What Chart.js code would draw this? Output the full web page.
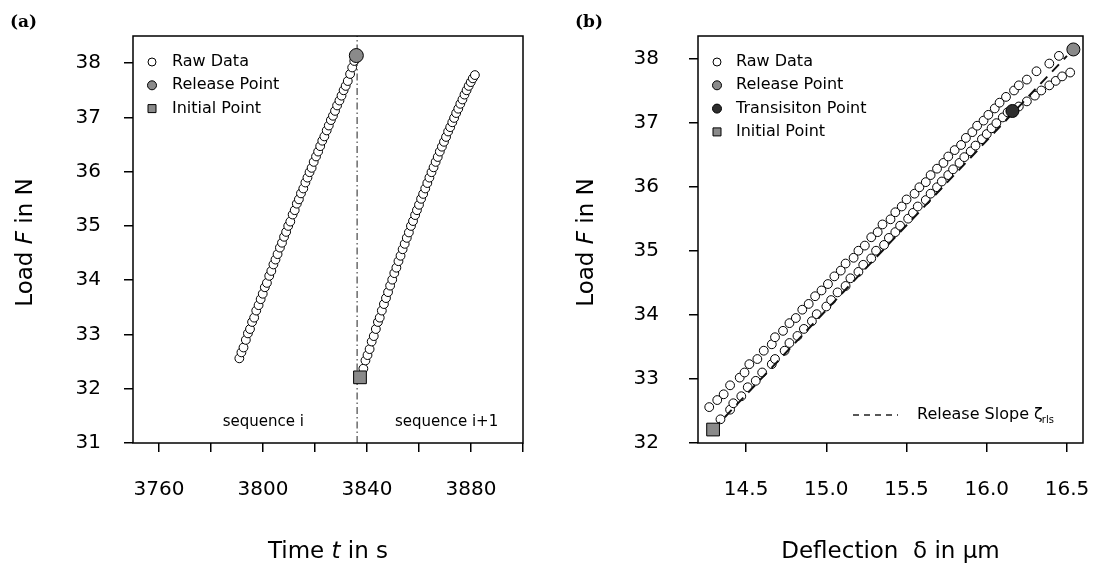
<!DOCTYPE html>
<html>
<head>
<meta charset="utf-8">
<script src="https://cdn.jsdelivr.net/npm/chart.js@4.4.0/dist/chart.umd.min.js"></script>
<style>
  html, body { margin: 0; padding: 0; background: #fff; }
  #wrap { position: relative; width: 1094px; height: 568px; }
  .panel { position: absolute; top: 0; width: 547px; height: 568px; }
</style>
</head>
<body>
<div id="wrap">
  <div class="panel" style="left:0"><canvas id="chartA" width="547" height="568"></canvas></div>
  <div class="panel" style="left:547px"><canvas id="chartB" width="547" height="568"></canvas></div>
</div>
<script>
// --- sequence i (loading until release) ---
const timeSeqI = [3790.9, 3791.7, 3792.5, 3793.4, 3794.2, 3795.0, 3795.8, 3796.6, 3797.4, 3798.3,
  3799.1, 3799.9, 3800.7, 3801.5, 3802.4, 3803.2, 3804.0, 3804.8, 3805.6, 3806.5,
  3807.3, 3808.1, 3808.9, 3809.7, 3810.5, 3811.4, 3812.2, 3813.0, 3813.8, 3814.6,
  3815.5, 3816.3, 3817.1, 3817.9, 3818.7, 3819.5, 3820.4, 3821.2, 3822.0, 3822.8,
  3823.6, 3824.5, 3825.3, 3826.1, 3826.9, 3827.7, 3828.5, 3829.4, 3830.2, 3831.0,
  3831.8, 3832.6, 3833.5, 3834.3, 3835.1];
const loadSeqI = [32.56, 32.67, 32.76, 32.90, 33.02, 33.10, 33.23, 33.31, 33.44, 33.54,
  33.65, 33.75, 33.87, 33.95, 34.08, 34.17, 34.29, 34.38, 34.48, 34.60,
  34.69, 34.80, 34.89, 35.00, 35.08, 35.21, 35.29, 35.41, 35.49, 35.60,
  35.69, 35.80, 35.89, 35.99, 36.07, 36.18, 36.28, 36.37, 36.47, 36.57,
  36.65, 36.76, 36.85, 36.95, 37.03, 37.12, 37.22, 37.31, 37.40, 37.50,
  37.58, 37.67, 37.80, 37.92, 38.04];
const deflSeqI = [14.27, 14.32, 14.36, 14.40, 14.46, 14.49, 14.52, 14.57, 14.61, 14.66,
  14.68, 14.73, 14.77, 14.81, 14.85, 14.89, 14.93, 14.97, 15.01, 15.05,
  15.09, 15.12, 15.17, 15.20, 15.24, 15.28, 15.32, 15.35, 15.40, 15.43,
  15.47, 15.50, 15.55, 15.58, 15.62, 15.65, 15.69, 15.73, 15.76, 15.80,
  15.84, 15.87, 15.91, 15.94, 15.98, 16.01, 16.05, 16.08, 16.12, 16.17,
  16.20, 16.25, 16.31, 16.39, 16.45];

// --- sequence i+1 ---
const timeSeqI1 = [3838.6, 3839.4, 3840.2, 3841.0, 3841.8, 3842.6, 3843.4, 3844.2, 3844.9, 3845.7,
  3846.5, 3847.3, 3848.1, 3848.9, 3849.7, 3850.5, 3851.3, 3852.1, 3852.9, 3853.7,
  3854.5, 3855.3, 3856.1, 3856.9, 3857.7, 3858.5, 3859.2, 3860.0, 3860.8, 3861.6,
  3862.4, 3863.2, 3864.0, 3864.8, 3865.6, 3866.4, 3867.2, 3868.0, 3868.8, 3869.6,
  3870.4, 3871.2, 3872.0, 3872.8, 3873.5, 3874.3, 3875.1, 3875.9, 3876.7, 3877.5,
  3878.3, 3879.1, 3879.9, 3880.7, 3881.5];
const loadSeqI1 = [32.37, 32.52, 32.62, 32.73, 32.87, 32.97, 33.10, 33.23, 33.31, 33.44,
  33.56, 33.67, 33.78, 33.90, 34.01, 34.13, 34.23, 34.35, 34.45, 34.57,
  34.67, 34.78, 34.88, 35.00, 35.09, 35.20, 35.29, 35.39, 35.50, 35.59,
  35.69, 35.79, 35.89, 35.99, 36.08, 36.18, 36.27, 36.37, 36.46, 36.55,
  36.64, 36.74, 36.82, 36.91, 36.99, 37.08, 37.16, 37.25, 37.33, 37.42,
  37.50, 37.58, 37.65, 37.72, 37.78];
const deflSeqI1 = [14.34, 14.40, 14.42, 14.47, 14.51, 14.56, 14.60, 14.66, 14.68, 14.74,
  14.77, 14.82, 14.86, 14.91, 14.94, 15.00, 15.03, 15.07, 15.12, 15.15,
  15.20, 15.23, 15.28, 15.31, 15.36, 15.39, 15.43, 15.46, 15.51, 15.54,
  15.57, 15.62, 15.65, 15.69, 15.72, 15.76, 15.79, 15.83, 15.86, 15.90,
  15.93, 15.97, 16.00, 16.03, 16.06, 16.10, 16.13, 16.20, 16.25, 16.30,
  16.34, 16.39, 16.43, 16.47, 16.52];

// special points: [time, deflection, load]
const releasePt = [3835.9, 16.54, 38.14];
const initialPt = [3837.3, 14.294, 32.21];
const transitionPt = [16.16, 37.18];          // [deflection, load]
const seqSplitTime = 3836.2;
const slopeDefl = [14.294, 16.50];
const slopeLoad = [32.21, 38.04];

// axis ranges and ticks
const timeRange = [3750, 3900];
const timeTicks = [3760, 3780, 3800, 3820, 3840, 3860, 3880, 3900];
const timeLabels = ['3760', '', '3800', '', '3840', '', '3880', ''];
const loadRangeA = [31, 38.5];
const loadTicksA = [31, 32, 33, 34, 35, 36, 37, 38];
const deflRange = [14.2, 16.6];
const deflTicks = [14.5, 15.0, 15.5, 16.0, 16.5];
const deflLabels = ['14.5', '15.0', '15.5', '16.0', '16.5'];
const loadRangeB = [32, 38.35];
const loadTicksB = [32, 33, 34, 35, 36, 37, 38];

const FONT = "'DejaVu Sans', sans-serif";
const GRAY = '#8a8a8a';

const pts = (xs, ys) => xs.map((x, i) => ({ x: x, y: ys[i] }));

function drawRich(ctx, parts, cx, cy, angle, size) {
  ctx.save();
  ctx.translate(cx, cy);
  ctx.rotate(angle);
  ctx.textBaseline = 'middle';
  ctx.textAlign = 'left';
  const fonts = parts.map(p => (p.italic ? 'italic ' : '') + size + 'px ' + FONT);
  const widths = parts.map((p, i) => { ctx.font = fonts[i]; return ctx.measureText(p.text).width; });
  let x = -widths.reduce((a, b) => a + b, 0) / 2;
  parts.forEach((p, i) => { ctx.font = fonts[i]; ctx.fillText(p.text, x, 0); x += widths[i]; });
  ctx.restore();
}

function marker(ctx, ds, x, y, r) {
  ctx.beginPath();
  if (ds.pointStyle === 'rect') {
    ctx.rect(x - r, y - r, 2 * r, 2 * r);
  } else {
    ctx.arc(x, y, r, 0, Math.PI * 2);
  }
  ctx.fillStyle = ds.pointBackgroundColor;
  ctx.fill();
  ctx.lineWidth = 1;
  ctx.strokeStyle = '#000';
  ctx.stroke();
}

const decor = {
  id: 'decor',
  afterDraw(chart, args, o) {
    const ctx = chart.ctx, a = chart.chartArea;
    ctx.save();
    ctx.fillStyle = '#000';
    // frame
    ctx.strokeStyle = '#000';
    ctx.lineWidth = 1.5;
    ctx.strokeRect(a.left, a.top, a.right - a.left, a.bottom - a.top);
    // panel letter
    ctx.font = "bold 17px 'DejaVu Serif', serif";
    ctx.textBaseline = 'alphabetic';
    ctx.textAlign = 'left';
    ctx.fillText(o.panel, o.panelX, 27);
    // axis titles
    drawRich(ctx, o.xTitle, (a.left + a.right) / 2, 552, 0, 23);
    drawRich(ctx, o.yTitle, o.yTitleX, (a.top + a.bottom) / 2 + 3, -Math.PI / 2, 23);
    // legend
    ctx.font = '16px ' + FONT;
    o.legend.forEach((it, k) => {
      const ds = chart.data.datasets[it.ds];
      const y = a.top + 26 + k * 23.3;
      marker(ctx, ds, a.left + 19, y, it.r);
      ctx.fillStyle = '#000';
      ctx.textBaseline = 'middle';
      ctx.fillText(ds.label, a.left + o.textDx, y);
    });
    // text notes placed in data units
    (o.notes || []).forEach(n => {
      ctx.font = '15px ' + FONT;
      ctx.textAlign = 'center';
      ctx.textBaseline = 'middle';
      ctx.fillStyle = '#000';
      ctx.fillText(n.text, chart.scales.x.getPixelForValue(n.x), chart.scales.y.getPixelForValue(n.y));
    });
    // slope legend
    if (o.slope) {
      const y = a.bottom - 28;
      ctx.beginPath();
      ctx.setLineDash([6, 5]);
      ctx.lineWidth = 1.3;
      ctx.strokeStyle = '#222';
      ctx.moveTo(a.left + 155, y);
      ctx.lineTo(a.left + 200, y);
      ctx.stroke();
      ctx.setLineDash([]);
      ctx.textAlign = 'left';
      ctx.textBaseline = 'middle';
      ctx.font = '16px ' + FONT;
      const t = 'Release Slope ζ';
      ctx.fillText(t, a.left + 219, y);
      const w = ctx.measureText(t).width;
      ctx.font = '10px ' + FONT;
      ctx.fillText('rls', a.left + 219 + w - 1, y + 5);
    }
    ctx.restore();
  }
};

function fixedTicks(values) {
  return s => { s.ticks = values.map(v => ({ value: v })); };
}

function noPad(s) {
  s.paddingLeft = 0; s.paddingRight = 0; s.paddingTop = 0; s.paddingBottom = 0;
}

function xAxis(range, values, labels) {
  return {
    type: 'linear', position: 'bottom', min: range[0], max: range[1],
    afterBuildTicks: fixedTicks(values),
    afterFit: s => { s.height = 125; noPad(s); },
    ticks: { autoSkip: false, maxRotation: 0, padding: 26, color: '#000',
      font: { family: FONT, size: 20 }, callback: (v, i) => labels[i] },
    grid: { drawOnChartArea: false, drawTicks: true, tickLength: 9, color: '#000', lineWidth: 1.5 },
    border: { display: false }
  };
}

function yAxis(range, values, width, pad) {
  return {
    type: 'linear', min: range[0], max: range[1],
    afterBuildTicks: fixedTicks(values),
    afterFit: s => { s.width = width; noPad(s); },
    ticks: { autoSkip: false, padding: pad, color: '#000',
      font: { family: FONT, size: 20 }, callback: v => String(v) },
    grid: { drawOnChartArea: false, drawTicks: true, tickLength: 9, color: '#000', lineWidth: 1.5 },
    border: { display: false }
  };
}

const rawStyle = { pointStyle: 'circle', pointRadius: 4.4, pointBorderWidth: 1,
  pointBackgroundColor: '#fff', pointBorderColor: '#000', showLine: false };

new Chart(document.getElementById('chartA'), {
  type: 'scatter',
  data: {
    datasets: [
      { label: 'Release Point', data: [{ x: releasePt[0], y: releasePt[2] }], pointStyle: 'circle',
        pointRadius: 7, pointBorderWidth: 1, pointBackgroundColor: GRAY, pointBorderColor: '#000' },
      { label: 'Initial Point', data: [{ x: initialPt[0], y: initialPt[2] }], pointStyle: 'rect',
        pointRadius: 9, pointBorderWidth: 1, pointBackgroundColor: GRAY, pointBorderColor: '#000' },
      Object.assign({ label: 'Raw Data', data: pts(timeSeqI, loadSeqI) }, rawStyle),
      Object.assign({ label: 'Raw Data', data: pts(timeSeqI1, loadSeqI1) }, rawStyle),
      { label: 'split', data: [{ x: seqSplitTime, y: loadRangeA[0] }, { x: seqSplitTime, y: loadRangeA[1] }],
        showLine: true, pointRadius: 0, borderColor: '#555', borderWidth: 1.3, borderDash: [7, 3, 1.5, 3] }
    ]
  },
  options: {
    responsive: false, animation: false, events: [],
    layout: { padding: { left: 0, right: 24, top: 36, bottom: 0 } },
    scales: {
      x: xAxis(timeRange, timeTicks, timeLabels),
      y: yAxis(loadRangeA, loadTicksA, 133, 23)
    },
    plugins: {
      legend: { display: false }, tooltip: { enabled: false },
      decor: {
        panel: '(a)', panelX: 10, yTitleX: 26, textDx: 39,
        xTitle: [{ text: 'Time ' }, { text: 't', italic: true }, { text: ' in s' }],
        yTitle: [{ text: 'Load ' }, { text: 'F', italic: true }, { text: ' in N' }],
        legend: [{ ds: 2, r: 4 }, { ds: 0, r: 4.5 }, { ds: 1, r: 4 }],
        notes: [{ text: 'sequence i', x: 3800.1, y: 31.39 }, { text: 'sequence i+1', x: 3870.6, y: 31.39 }]
      }
    }
  },
  plugins: [decor]
});

new Chart(document.getElementById('chartB'), {
  type: 'scatter',
  data: {
    datasets: [
      { label: 'Release Point', data: [{ x: releasePt[1], y: releasePt[2] }], pointStyle: 'circle',
        pointRadius: 6.5, pointBorderWidth: 1, pointBackgroundColor: GRAY, pointBorderColor: '#000' },
      { label: 'Transisiton Point', data: [{ x: transitionPt[0], y: transitionPt[1] }], pointStyle: 'circle',
        pointRadius: 6.5, pointBorderWidth: 1, pointBackgroundColor: '#2e2e2e', pointBorderColor: '#000' },
      { label: 'Initial Point', data: [{ x: initialPt[1], y: initialPt[2] }], pointStyle: 'rect',
        pointRadius: 9, pointBorderWidth: 1, pointBackgroundColor: GRAY, pointBorderColor: '#000' },
      { label: 'Release Slope', data: pts(slopeDefl, slopeLoad), showLine: true, pointRadius: 0,
        borderColor: '#111', borderWidth: 2, borderDash: [10, 7] },
      Object.assign({ label: 'Raw Data', data: pts(deflSeqI, loadSeqI) }, rawStyle),
      Object.assign({ label: 'Raw Data', data: pts(deflSeqI1, loadSeqI1) }, rawStyle)
    ]
  },
  options: {
    responsive: false, animation: false, events: [],
    layout: { padding: { left: 0, right: 11, top: 36, bottom: 0 } },
    scales: {
      x: xAxis(deflRange, deflTicks, deflLabels),
      y: yAxis(loadRangeB, loadTicksB, 151, 30)
    },
    plugins: {
      legend: { display: false }, tooltip: { enabled: false },
      decor: {
        panel: '(b)', panelX: 28, yTitleX: 40, textDx: 38, slope: true,
        xTitle: [{ text: 'Deflection  δ in μm' }],
        yTitle: [{ text: 'Load ' }, { text: 'F', italic: true }, { text: ' in N' }],
        legend: [{ ds: 4, r: 4 }, { ds: 0, r: 4.5 }, { ds: 1, r: 4.5 }, { ds: 2, r: 4 }]
      }
    }
  },
  plugins: [decor]
});
</script>
</body>
</html>
